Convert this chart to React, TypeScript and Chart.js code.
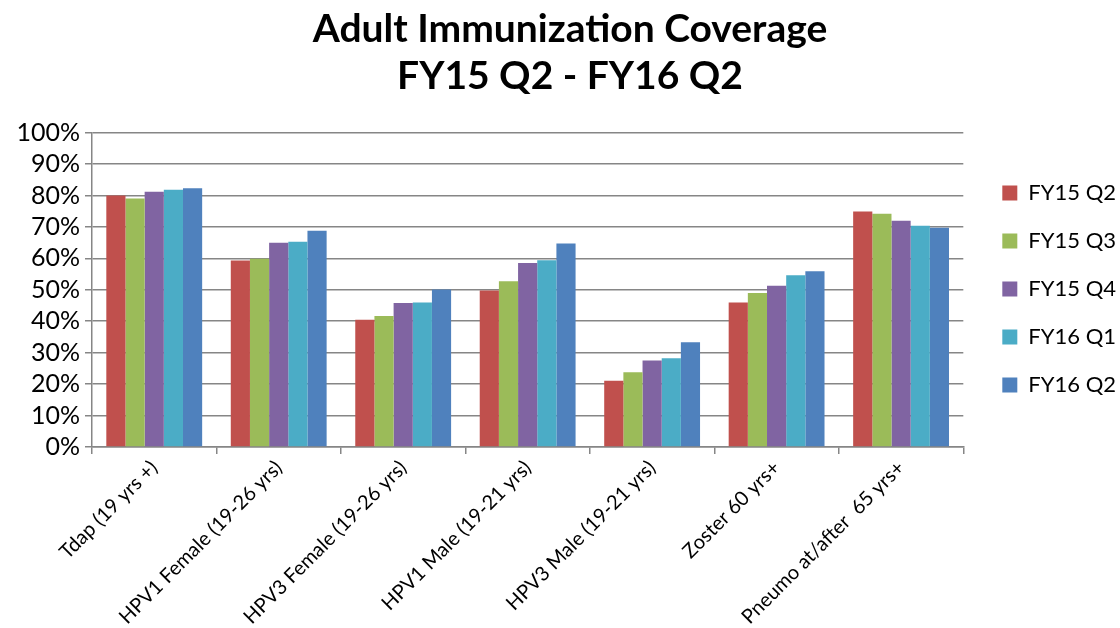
import React, { useEffect, useRef } from "react";
import { Chart, registerables } from "chart.js";

Chart.register(...registerables);

const categories = [
  "Tdap (19 yrs +)",
  "HPV1 Female (19-26 yrs)",
  "HPV3 Female (19-26 yrs)",
  "HPV1 Male (19-21 yrs)",
  "HPV3 Male (19-21 yrs)",
  "Zoster 60 yrs+",
  "Pneumo at/after  65 yrs+",
];

const seriesNames = ["FY15 Q2", "FY15 Q3", "FY15 Q4", "FY16 Q1", "FY16 Q2"];

const fy15q2 = [80.0, 59.3, 40.5, 49.8, 21.1, 46.0, 74.9];
const fy15q3 = [79.0, 59.9, 41.7, 52.7, 23.8, 49.0, 74.2];
const fy15q4 = [81.2, 65.0, 45.8, 58.5, 27.5, 51.3, 72.0];
const fy16q1 = [81.8, 65.3, 46.0, 59.4, 28.2, 54.6, 70.4];
const fy16q2 = [82.3, 68.8, 50.1, 64.7, 33.3, 55.9, 69.7];

const seriesValues = [fy15q2, fy15q3, fy15q4, fy16q1, fy16q2];
const seriesColors = ["#C0504D", "#9BBB59", "#8064A2", "#4BACC6", "#4F81BD"];

const yTicks = [0, 10, 20, 30, 40, 50, 60, 70, 80, 90, 100];

const titleLines = ["Adult Immunization Coverage", "FY15 Q2 - FY16 Q2"];

const FONT = "Lato, 'Open Sans', sans-serif";

const legendShift = {
  id: "legendShift",
  afterLayout(chart: any) {
    const lg = chart.legend;
    if (lg) {
      lg.bottom -= 56;
      lg.height -= 56;
    }
  },
};

export default function App() {
  const ref = useRef<HTMLCanvasElement | null>(null);

  useEffect(() => {
    if (!ref.current) return;
    const chart = new Chart(ref.current, {
      type: "bar",
      data: {
        labels: categories,
        datasets: seriesNames.map((name, i) => ({
          label: name,
          data: seriesValues[i],
          backgroundColor: seriesColors[i],
          borderWidth: 0,
          categoryPercentage: 0.77,
          barPercentage: 1.0,
        })),
      },
      plugins: [legendShift],
      options: {
        animation: false,
        responsive: false,
        maintainAspectRatio: false,
        layout: { padding: { left: 14, right: -6, top: 6, bottom: 0 } },
        plugins: {
          title: {
            display: true,
            text: titleLines,
            color: "#000",
            font: { family: FONT, size: 39, weight: "bold" },
            lineHeight: 1.23,
            padding: { top: 0, bottom: 33 },
          },
          legend: {
            position: "right",
            align: "center",
            labels: {
              color: "#000",
              font: { family: FONT, size: 22 },
              boxWidth: 15,
              boxHeight: 15,
              padding: 26,
            },
          },
          tooltip: { enabled: false },
        },
        scales: {
          x: {
            afterFit: (axis: any) => {
              axis.height = 181;
            },
            grid: {
              display: true,
              drawOnChartArea: false,
              drawTicks: true,
              tickLength: 7,
              color: "#868686",
              lineWidth: 1.5,
              offset: true,
            },
            border: { display: true, color: "#868686", width: 1.5 },
            ticks: {
              color: "#000",
              font: { family: FONT, size: 20 },
              minRotation: 45,
              maxRotation: 45,
              autoSkip: false,
              padding: 2,
            },
          },
          y: {
            min: 0,
            max: 100,
            afterFit: (axis: any) => {
              axis.width = 78;
            },
            afterBuildTicks: (axis: any) => {
              axis.ticks = yTicks.map((v) => ({ value: v }));
            },
            grid: {
              color: "#868686",
              lineWidth: 1.5,
              drawTicks: true,
              tickLength: 7,
            },
            border: { display: true, color: "#868686", width: 1.5 },
            ticks: {
              color: "#000",
              font: { family: FONT, size: 25 },
              padding: 5,
              autoSkip: false,
              callback: (v: any) => `${v}%`,
            },
          },
          spacer: {
            type: "linear",
            position: "right",
            display: true,
            afterFit: (axis: any) => {
              axis.width = 13;
            },
            grid: { display: false, drawTicks: false },
            border: { display: false },
            ticks: { display: false },
          },
        },
      },
    });
    return () => chart.destroy();
  }, []);

  return (
    <div style={{ position: "fixed", left: 0, top: 0, width: 1120, height: 628, background: "#fff" }}>
      <canvas ref={ref} width={1120} height={628} style={{ width: 1120, height: 628 }} />
    </div>
  );
}
